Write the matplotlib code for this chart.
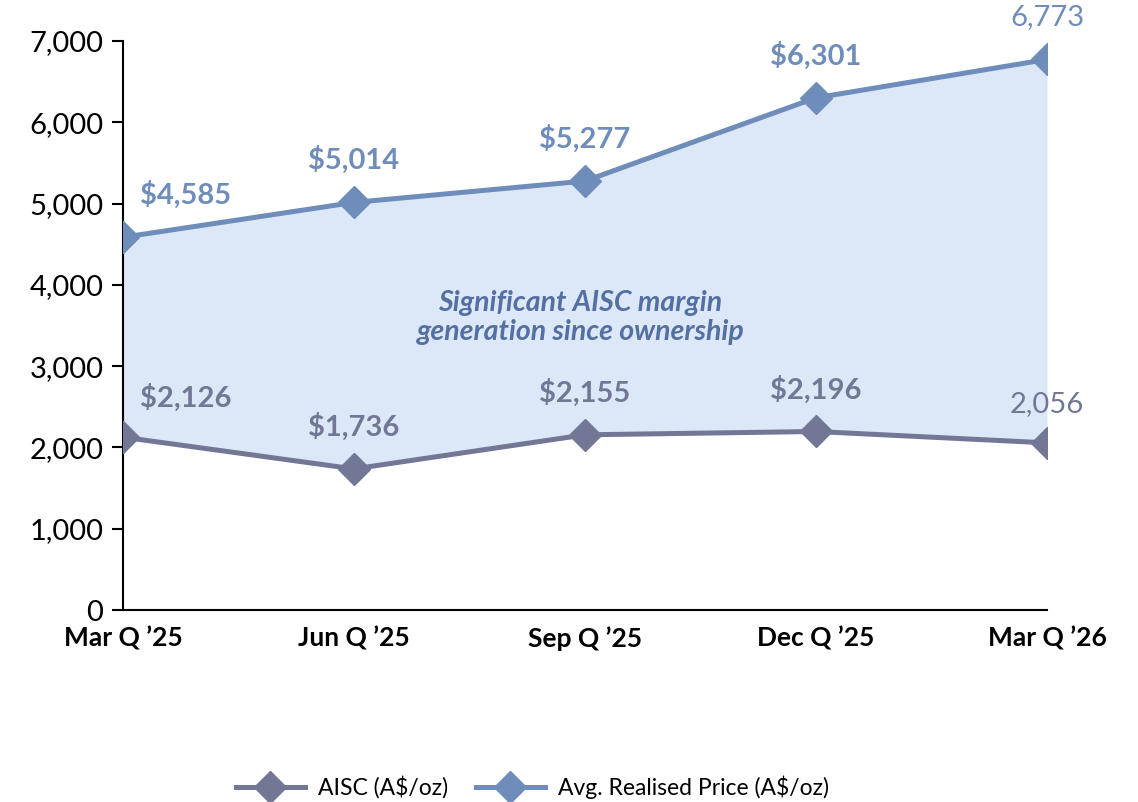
import matplotlib
matplotlib.use("Agg")
import matplotlib.pyplot as plt
from matplotlib.ticker import FuncFormatter

categories = ["Mar Q \u201925", "Jun Q \u201925", "Sep Q \u201925", "Dec Q \u201925", "Mar Q \u201926"]
price = [4585, 5014, 5277, 6301, 6773]
aisc = [2126, 1736, 2155, 2196, 2056]
price_labels = ["$4,585", "$5,014", "$5,277", "$6,301", "6,773"]
aisc_labels = ["$2,126", "$1,736", "$2,155", "$2,196", "2,056"]
label_bold = [True, True, True, True, False]
yticks = [0, 1000, 2000, 3000, 4000, 5000, 6000, 7000]

plt.rcParams['font.family'] = ['Lato', 'DejaVu Sans']

price_c = "#6E8DBA"
aisc_c = "#727795"
fill_c = "#DCE8F7"

fig = plt.figure(figsize=(11.38, 8.02), dpi=100)
ax = fig.add_axes([0.108, 0.2394, 0.812, 0.7095])

x = list(range(len(categories)))
ax.fill_between(x, aisc, price, color=fill_c, zorder=1, linewidth=0)
ax.plot(x, aisc, color=aisc_c, lw=3.6, marker='D', ms=16, zorder=3, label="AISC (A$/oz)")
ax.plot(x, price, color=price_c, lw=3.6, marker='D', ms=16, zorder=3, label="Avg. Realised Price (A$/oz)")

for i in x:
    dx = 0.27 if i == 0 else 0
    ax.text(i + dx, price[i] + 520, price_labels[i], color=price_c, fontsize=21,
            fontweight='bold' if label_bold[i] else 'normal', ha='center', va='center', zorder=4)
    ax.text(i + dx, aisc[i] + (490 if i == 0 else 515 if i < 4 else 480), aisc_labels[i], color=aisc_c, fontsize=21,
            fontweight='bold' if label_bold[i] else 'normal', ha='center', va='center', zorder=4)

ax.text(1.98, 3600, "Significant AISC margin\ngeneration since ownership", color="#5470A3",
        fontsize=20.5, fontweight='bold', fontstyle='italic', ha='center', va='center',
        linespacing=1.15, zorder=4)

ax.set_xlim(0, 4)
ax.set_ylim(0, 7000)
ax.set_yticks(yticks)
ax.yaxis.set_major_formatter(FuncFormatter(lambda v, p: f"{int(v):,}"))
ax.set_xticks(x)
ax.set_xticklabels(categories, fontsize=19, fontweight='bold')
ax.tick_params(axis='y', labelsize=21, length=8, width=1.5, direction='out', pad=6)
ax.tick_params(axis='x', length=0, pad=12)
for s in ['top', 'right']:
    ax.spines[s].set_visible(False)
for s in ['left', 'bottom']:
    ax.spines[s].set_linewidth(1.5)
ax.patch.set_alpha(0)

leg = fig.legend(loc='center', bbox_to_anchor=(0.468, 0.0187), ncol=2, frameon=False,
                 fontsize=16.5, handlelength=3, columnspacing=1.2, handletextpad=0.6)

fig.savefig("out.png", dpi=100)
